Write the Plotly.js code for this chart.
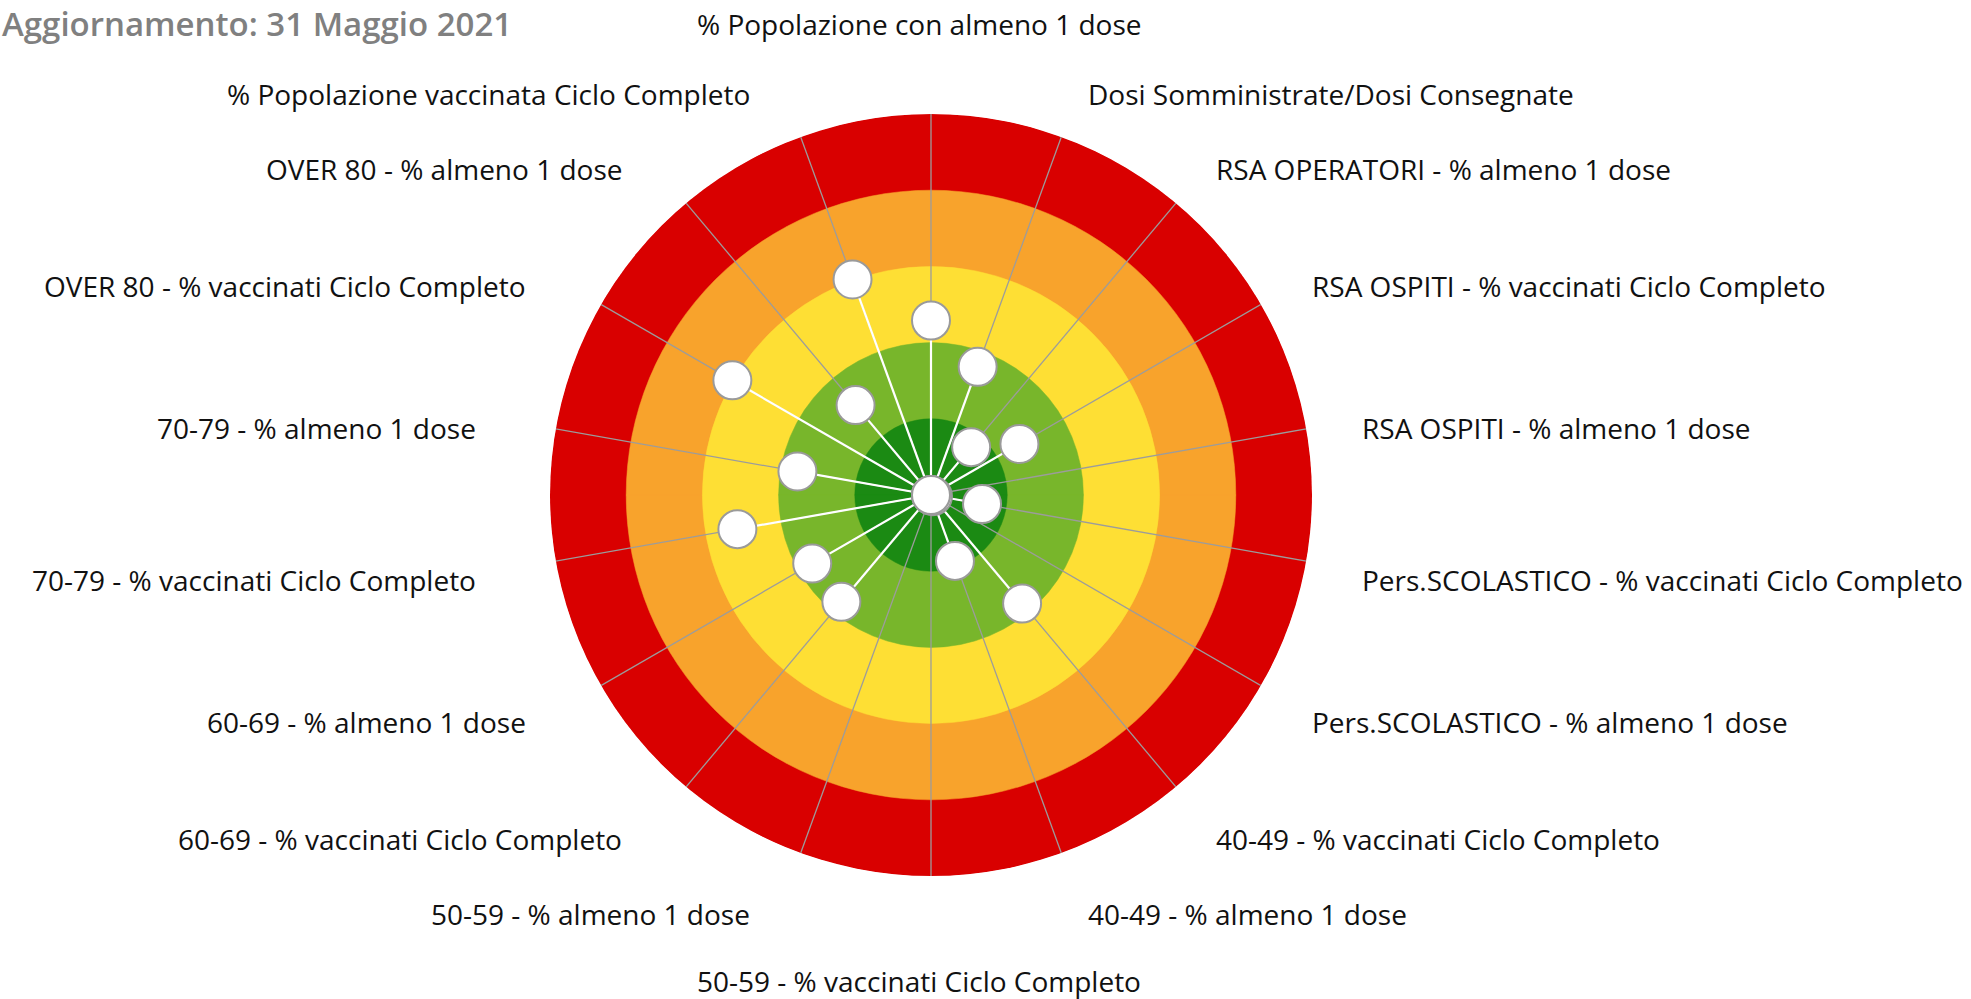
<!DOCTYPE html>
<html><head><meta charset="utf-8">
<script src="https://cdn.plot.ly/plotly-3.0.1.min.js"></script>
<style>html,body{margin:0;padding:0;background:#fff;overflow:hidden}#chart{width:1971px;height:999px}</style>
</head><body><div id="chart"></div>
<script>
// ---- data ----
const categories = [
  '% Popolazione con almeno 1 dose',
  'Dosi Somministrate/Dosi Consegnate',
  'RSA OPERATORI - % almeno 1 dose',
  'RSA OSPITI - % vaccinati Ciclo Completo',
  'RSA OSPITI - % almeno 1 dose',
  'Pers.SCOLASTICO - % vaccinati Ciclo Completo',
  'Pers.SCOLASTICO - % almeno 1 dose',
  '40-49 - % vaccinati Ciclo Completo',
  '40-49 - % almeno 1 dose',
  '50-59 - % vaccinati Ciclo Completo',
  '50-59 - % almeno 1 dose',
  '60-69 - % vaccinati Ciclo Completo',
  '60-69 - % almeno 1 dose',
  '70-79 - % vaccinati Ciclo Completo',
  '70-79 - % almeno 1 dose',
  'OVER 80 - % vaccinati Ciclo Completo',
  'OVER 80 - % almeno 1 dose',
  '% Popolazione vaccinata Ciclo Completo'
];
const scores = [2.29, 1.79, 0.82, 1.34, 0.0, 0.68, 0.03, 1.86, 0.92, 0.0, 0.0, 1.83, 1.80, 2.58, 1.78, 3.01, 1.54, 3.01];
const bandEdges = [1, 2, 3, 4, 5];
const bandColors = ['#1B8A13', '#78B62B', '#FEDF34', '#F8A32C', '#D90000'];
const updateText = 'Aggiornamento: 31 Maggio 2021';

// ---- geometry / style ----
const W = 1971, H = 999, CX = 931, CY = 495, RPX = 381, RMAX = 5, SPOKE = 5.6;
const FONT = '"Open Sans", "Noto Sans", sans-serif';
const step = 360 / categories.length;
const thetas = categories.map((c, i) => i * step);

const traces = [];
for (let k = bandEdges.length - 1; k >= 0; k--) {
  traces.push({
    type: 'barpolar', r: [bandEdges[k], bandEdges[k]], theta: [0, 180], width: [180, 180],
    marker: {color: bandColors[k], line: {color: bandColors[k], width: 0.5}},
    hoverinfo: 'skip', showlegend: false
  });
}
const gr = [], gt = [], wr = [], wt = [];
categories.forEach((c, i) => {
  gr.push(0, SPOKE, null); gt.push(thetas[i], thetas[i], thetas[i]);
  wr.push(0, scores[i], null); wt.push(thetas[i], thetas[i], thetas[i]);
});
traces.push({type: 'scatterpolar', mode: 'lines', r: gr, theta: gt, cliponaxis: false,
  line: {color: '#9c9c9c', width: 1.3}, hoverinfo: 'skip', showlegend: false});
traces.push({type: 'scatterpolar', mode: 'lines', r: wr, theta: wt, cliponaxis: false,
  line: {color: '#ffffff', width: 2.2}, hoverinfo: 'skip', showlegend: false});
traces.push({type: 'scatterpolar', mode: 'markers', r: scores, theta: thetas, text: categories,
  cliponaxis: false,
  marker: {size: 38, color: '#ffffff', line: {color: '#9a9a9a', width: 2}},
  hovertemplate: '%{text}: %{r}<extra></extra>', showlegend: false});

const annotations = [];
categories.forEach((c, i) => {
  const a = thetas[i] * Math.PI / 180;
  const ex = CX + SPOKE / RMAX * RPX * Math.sin(a);
  const ey = CY - SPOKE / RMAX * RPX * Math.cos(a);
  let x, y, xa = 'center';
  if (thetas[i] === 0) { x = ex - 12; y = ey - 44; }
  else if (thetas[i] === 180) { x = ex - 12; y = ey + 59; }
  else if (thetas[i] < 180) { x = ex + 9; y = ey + 9 - 10 * Math.cos(a); xa = 'left'; }
  else { x = ex - 33; y = ey + 9 - 10 * Math.cos(a); xa = 'right'; }
  annotations.push({text: c, x: x / W, y: 1 - y / H, xref: 'paper', yref: 'paper',
    xanchor: xa, yanchor: 'middle', showarrow: false,
    font: {family: FONT, size: 28, color: '#111111'}});
});
annotations.push({text: updateText, x: 0, y: 1 - 23 / H, xref: 'paper', yref: 'paper',
  xanchor: 'left', yanchor: 'middle', showarrow: false,
  font: {family: FONT, size: 33, color: '#808080', weight: 600}});

const layout = {
  width: W, height: H, margin: {l: 0, r: 0, t: 0, b: 0},
  paper_bgcolor: '#ffffff', showlegend: false,
  polar: {
    domain: {x: [(CX - RPX) / W, (CX + RPX) / W], y: [1 - (CY + RPX) / H, 1 - (CY - RPX) / H]},
    bgcolor: 'rgba(0,0,0,0)', barmode: 'overlay', bargap: 0,
    radialaxis: {range: [0, RMAX], visible: false, showgrid: false},
    angularaxis: {rotation: 90, direction: 'clockwise', visible: false, showgrid: false}
  },
  annotations: annotations
};
Plotly.newPlot('chart', traces, layout, {displayModeBar: false, staticPlot: true});
</script></body></html>
